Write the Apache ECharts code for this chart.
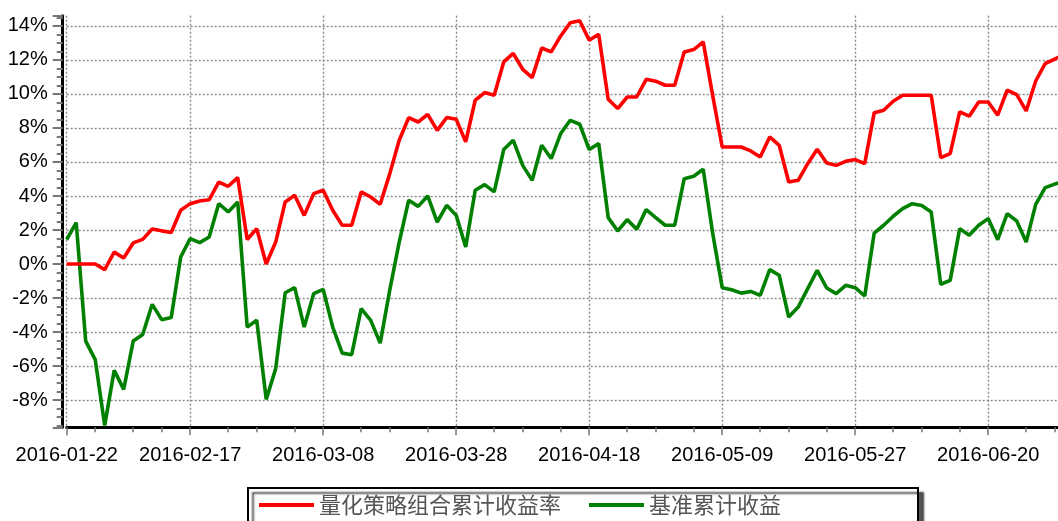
<!DOCTYPE html>
<html>
<head>
<meta charset="utf-8">
<script src="https://cdn.jsdelivr.net/npm/echarts@6/dist/echarts.min.js"></script>
<style>
  html, body { margin: 0; padding: 0; background: #fff; }
  #chart { width: 1058px; height: 521px; }
</style>
</head>
<body>
<div id="chart"></div>
<script>
  // trading days (spring festival, qingming, labour day, dragon boat skipped)
  const dates = [
    '2016-01-22', '2016-01-25', '2016-01-26', '2016-01-27', '2016-01-28', '2016-01-29',
    '2016-02-01', '2016-02-02', '2016-02-03', '2016-02-04', '2016-02-05',
    '2016-02-15', '2016-02-16', '2016-02-17', '2016-02-18', '2016-02-19',
    '2016-02-22', '2016-02-23', '2016-02-24', '2016-02-25', '2016-02-26', '2016-02-29',
    '2016-03-01', '2016-03-02', '2016-03-03', '2016-03-04',
    '2016-03-07', '2016-03-08', '2016-03-09', '2016-03-10', '2016-03-11',
    '2016-03-14', '2016-03-15', '2016-03-16', '2016-03-17', '2016-03-18',
    '2016-03-21', '2016-03-22', '2016-03-23', '2016-03-24', '2016-03-25',
    '2016-03-28', '2016-03-29', '2016-03-30', '2016-03-31', '2016-04-01',
    '2016-04-05', '2016-04-06', '2016-04-07', '2016-04-08',
    '2016-04-11', '2016-04-12', '2016-04-13', '2016-04-14', '2016-04-15',
    '2016-04-18', '2016-04-19', '2016-04-20', '2016-04-21', '2016-04-22',
    '2016-04-25', '2016-04-26', '2016-04-27', '2016-04-28', '2016-04-29',
    '2016-05-03', '2016-05-04', '2016-05-05', '2016-05-06',
    '2016-05-09', '2016-05-10', '2016-05-11', '2016-05-12', '2016-05-13',
    '2016-05-16', '2016-05-17', '2016-05-18', '2016-05-19', '2016-05-20',
    '2016-05-23', '2016-05-24', '2016-05-25', '2016-05-26', '2016-05-27',
    '2016-05-30', '2016-05-31', '2016-06-01', '2016-06-02', '2016-06-03',
    '2016-06-06', '2016-06-07', '2016-06-08',
    '2016-06-13', '2016-06-14', '2016-06-15', '2016-06-16', '2016-06-17',
    '2016-06-20', '2016-06-21', '2016-06-22', '2016-06-23', '2016-06-24',
    '2016-06-27', '2016-06-28', '2016-06-29', '2016-06-30'
  ]

  // cumulative return, %
  const strategy = [
    0, 0, 0, 0, -0.33, 0.7, 0.35, 1.24, 1.45, 2.06,
    1.95, 1.85, 3.16, 3.55, 3.7, 3.78, 4.82, 4.57, 5.08, 1.44,
    2.08, 0, 1.29, 3.65, 4.04, 2.86, 4.14, 4.34, 3.16, 2.28,
    2.28, 4.24, 3.94, 3.51, 5.3, 7.28, 8.61, 8.35, 8.8, 7.86,
    8.61, 8.51, 7.18, 9.63, 10.08, 9.92, 11.88, 12.38, 11.45, 10.96,
    12.7, 12.47, 13.41, 14.18, 14.3, 13.16, 13.51, 9.69, 9.14, 9.82,
    9.82, 10.86, 10.75, 10.51, 10.51, 12.47, 12.61, 13.06, 9.9, 6.88,
    6.88, 6.88, 6.65, 6.29, 7.47, 6.98, 4.82, 4.92, 5.9, 6.75,
    5.94, 5.8, 6.04, 6.14, 5.9, 8.9, 9.04, 9.57, 9.92, 9.92,
    9.92, 9.92, 6.26, 6.49, 8.94, 8.69, 9.53, 9.53, 8.75, 10.22,
    9.96, 9.0, 10.76, 11.79, 12.05, 12.3
  ]
  const benchmark = [
    1.43, 2.44, -4.53, -5.62, -9.49, -6.25, -7.37, -4.53, -4.14, -2.37,
    -3.27, -3.15, 0.41, 1.49, 1.26, 1.59, 3.55, 3.06, 3.65, -3.71,
    -3.31, -7.96, -6.15, -1.69, -1.39, -3.71, -1.74, -1.49, -3.71, -5.24,
    -5.33, -2.62, -3.31, -4.65, -1.55, 1.29, 3.75, 3.39, 4.0, 2.47,
    3.45, 2.86, 1.0, 4.34, 4.67, 4.24, 6.73, 7.28, 5.8, 4.92,
    6.98, 6.2, 7.67, 8.45, 8.22, 6.73, 7.08, 2.73, 1.94, 2.61,
    2.04, 3.2, 2.73, 2.28, 2.28, 5.02, 5.16, 5.57, 1.8, -1.39,
    -1.51, -1.71, -1.61, -1.84, -0.33, -0.66, -3.12, -2.53, -1.45, -0.37,
    -1.41, -1.74, -1.25, -1.39, -1.88, 1.82, 2.28, 2.81, 3.26, 3.55,
    3.44, 3.06, -1.19, -0.96, 2.08, 1.69, 2.28, 2.67, 1.43, 2.96,
    2.53, 1.29, 3.51, 4.49, 4.7, 4.85
  ]

  const seriesNames = ['量化策略组合累计收益率', '基准累计收益']
  const labelDates = ['2016-01-22', '2016-02-17', '2016-03-08', '2016-03-28',
    '2016-04-18', '2016-05-09', '2016-05-27', '2016-06-20']

  const labelIdx = labelDates.map(d => dates.indexOf(d))
  const majorSet = new Set(labelIdx)
  // minor ticks: each gap between labels split in four
  const minorSet = new Set()
  const stops = labelIdx.concat([labelIdx[labelIdx.length - 1] + 14])
  for (let i = 1; i < stops.length; i++) {
    const a = stops[i - 1], b = stops[i]
    for (let k = 1; k < 4; k++) {
      const t = Math.round(a + (b - a) * k / 4)
      if (t < dates.length) minorSet.add(t)
    }
  }

  const font = 'Liberation Sans, Arial, sans-serif'
  const chart = echarts.init(document.getElementById('chart'))

  chart.setOption({
    animation: false,
    backgroundColor: '#fff',
    grid: {
      left: 66.7,
      top: 15.7,
      bottom: 93.7,
      right: -6.2,
      containLabel: false,
      outerBoundsMode: 'none'
    },
    legend: {
      left: 248,
      top: 488,
      orient: 'horizontal',
      padding: [6, 137, 30, 11],
      icon: 'rect',
      itemWidth: 55,
      itemHeight: 4,
      itemGap: 28,
      backgroundColor: '#fff',
      borderColor: '#000',
      borderWidth: 2,
      borderRadius: 0,
      shadowColor: 'rgba(0,0,0,0.65)',
      shadowOffsetX: 5,
      shadowOffsetY: 5,
      shadowBlur: 2,
      textStyle: {
        fontSize: 22,
        color: '#555',
        fontFamily: 'Noto Sans CJK SC'
      },
      data: seriesNames
    },
    xAxis: [{
      type: 'category',
      data: dates,
      boundaryGap: false,
      position: 'bottom',
      axisLine: { onZero: false, lineStyle: { color: '#000', width: 3 } },
      axisTick: {
        interval: (i) => majorSet.has(i),
        length: 8,
        lineStyle: { color: '#777', width: 1.5 }
      },
      axisLabel: {
        interval: (i) => majorSet.has(i),
        margin: 18,
        fontSize: 20,
        color: '#000',
        fontFamily: font
      },
      splitLine: {
        show: true,
        interval: (i) => majorSet.has(i),
        lineStyle: { color: '#888', type: [2, 2], width: 1.4 }
      }
    }, {
      // minor ticks only
      type: 'category',
      data: dates,
      boundaryGap: false,
      position: 'bottom',
      axisLine: { show: false, onZero: false },
      axisTick: {
        interval: (i) => minorSet.has(i),
        length: 5,
        lineStyle: { color: '#777', width: 1.5 }
      },
      axisLabel: { show: false },
      splitLine: { show: false }
    }],
    yAxis: {
      type: 'value',
      min: -9.6,
      max: 14.6,
      splitNumber: 12,
      offset: 4,
      axisLine: { show: true, lineStyle: { color: '#000', width: 3 } },
      axisTick: { show: true, length: 10, lineStyle: { color: '#777', width: 2 } },
      minorTick: { show: true, splitNumber: 4, length: 6, lineStyle: { color: '#777', width: 2 } },
      axisLabel: {
        formatter: '{value}%',
        showMinLabel: false,
        showMaxLabel: false,
        margin: 15,
        fontSize: 20,
        color: '#000',
        fontFamily: font
      },
      splitLine: {
        show: true,
        showMinLine: false,
        showMaxLine: false,
        lineStyle: { color: '#888', type: [2, 2], width: 1.4 }
      }
    },
    series: [{
      name: seriesNames[0],
      type: 'line',
      data: strategy,
      symbol: 'none',
      lineStyle: { color: '#ff0000', width: 3.6 },
      itemStyle: { color: '#ff0000' },
      z: 3
    }, {
      name: seriesNames[1],
      type: 'line',
      data: benchmark,
      symbol: 'none',
      lineStyle: { color: '#008000', width: 3.6 },
      itemStyle: { color: '#008000' },
      z: 2
    }]
  })
</script>
</body>
</html>
